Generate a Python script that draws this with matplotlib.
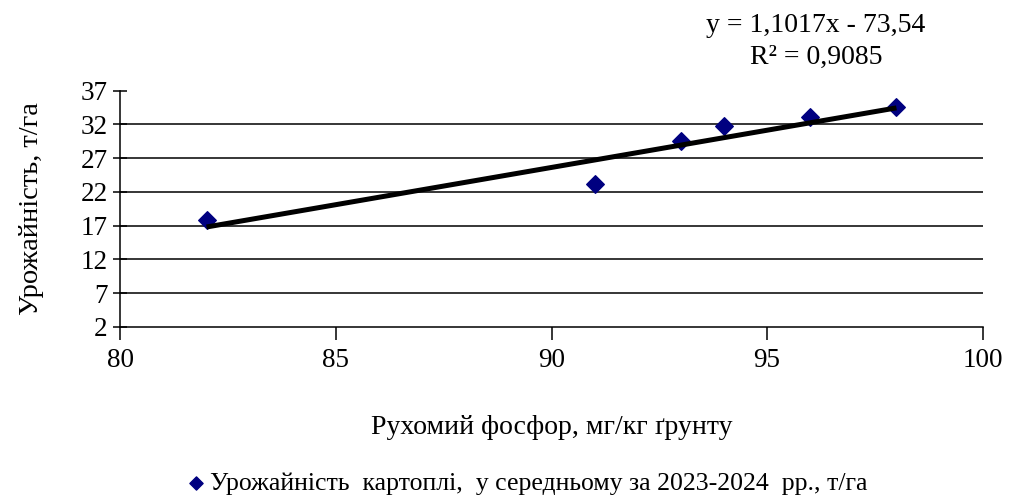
import numpy as np
import matplotlib.pyplot as plt

plt.rcParams['font.family'] = ['Liberation Serif', 'DejaVu Serif']

# фосфор, мг/кг та урожайність, т/га
phosphorus = [82, 91, 93, 94, 96, 98]
yield_t = [17.9, 23.1, 29.6, 31.7, 33.1, 34.5]

# лінійний тренд
slope = 1.1017
intercept = -73.54
r2 = 0.9085

x_ticks = [80, 85, 90, 95, 100]
y_ticks = [2, 7, 12, 17, 22, 27, 32, 37]


def comma(v, nd):
    return f'{v:.{nd}f}'.replace('.', ',')


fig = plt.figure(figsize=(10.11, 5), dpi=100)
ax = fig.add_axes([0.119, 0.346, 0.853, 0.473])

for yv in y_ticks[1:-1]:
    ax.axhline(yv, color='black', lw=1.1, zorder=1)

ax.scatter(phosphorus, yield_t, marker='D', s=80, color='#000080',
           zorder=3, label='Урожайність  картоплі,  у середньому за 2023-2024  рр., т/га')

xt = np.array([min(phosphorus), max(phosphorus)])
ax.plot(xt, slope * xt + intercept, color='black', lw=3.6,
        solid_capstyle='butt', zorder=4)

ax.set_xlim(80, 100)
ax.set_ylim(2, 37)
ax.set_xticks(x_ticks)
ax.set_yticks(y_ticks)
ax.tick_params(axis='y', direction='inout', length=10, width=1.1, labelsize=19.5, pad=4)
ax.tick_params(axis='x', direction='out', length=9, width=1.1, labelsize=19.5, pad=6)
ax.spines['top'].set_visible(False)
ax.spines['right'].set_visible(False)
ax.spines['left'].set_linewidth(1.1)
ax.spines['bottom'].set_linewidth(1.1)

ax.set_xlabel('Рухомий фосфор, мг/кг ґрунту', fontsize=20, labelpad=30)
ax.set_ylabel('Урожайність, т/га', fontsize=20.5, labelpad=26)

fig.text(0.807, 0.975, f'y = {comma(slope, 4)}x - {comma(-intercept, 2)}\nR² = {comma(r2, 4)}',
         ha='center', va='top', fontsize=20, linespacing=1.4)

fig.legend(loc='center', bbox_to_anchor=(0.52, 0.033), frameon=False, fontsize=18.5,
           handlelength=0.9, handletextpad=0.1, markerscale=0.75, borderaxespad=0)

fig.savefig('out.png', dpi=100)
